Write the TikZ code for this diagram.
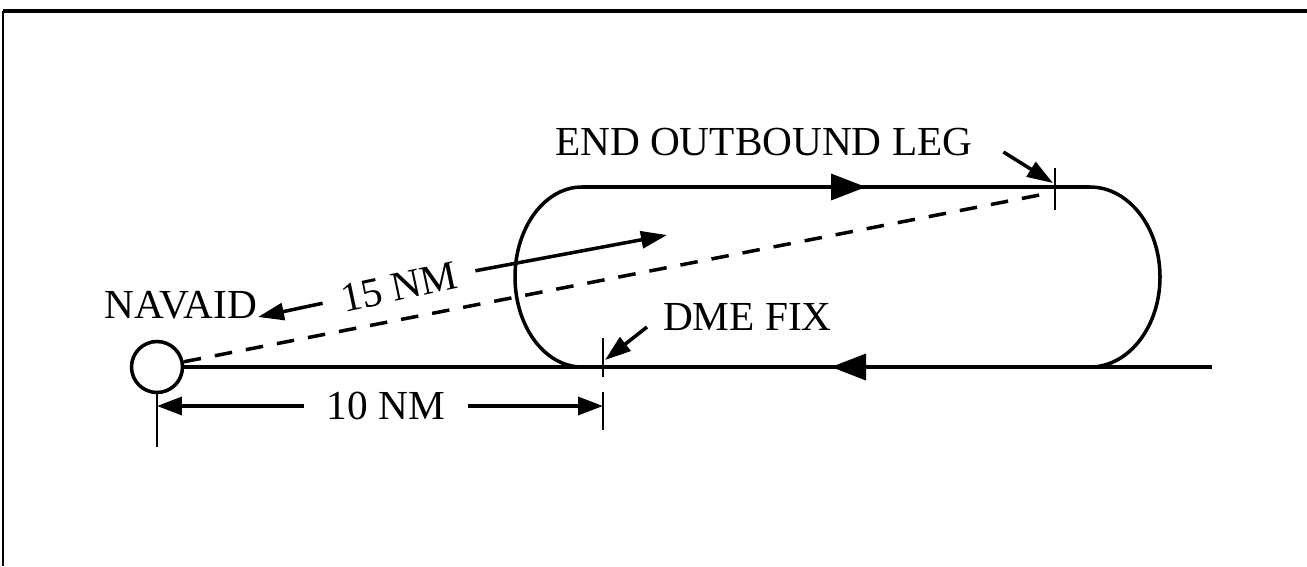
\documentclass[tikz,border=0pt]{standalone}
\usepackage{fontspec}
\setmainfont{Liberation Serif}
\usetikzlibrary{arrows.meta,calc}

\begin{document}
\begin{tikzpicture}[x=0.02cm, y=0.02cm, line width=2pt,
        lbl/.style={font=\fontsize{23.5}{27}\selectfont, inner sep=0pt, outer sep=0pt},
        tick/.style={line width=1pt},
        dim/.style={-{Triangle[length=0.5cm, width=0.36cm]}},
        pointer/.style={-{Triangle[length=0.52cm, width=0.34cm]}},
        flow/.style={-{Triangle[length=0.7cm, width=0.52cm]}}]
            \useasboundingbox (0,0) rectangle (1307,566);
            \draw[line width=1.1pt] (3,0) -- (3,555);
            \draw (3,555) -- (1307,555);

            \node[circle, draw, minimum size=1.02cm, inner sep=0pt] (navaid) at (157,199) {};
            \coordinate (inbound) at (1212,199);
            \coordinate (dmefix) at (603,199);
            \coordinate (endfix) at (1055,379);
            \coordinate (navtick) at (157,119);
            \coordinate (dashend) at (1050,373);
            \coordinate (outtip) at (667,331);

            \draw (582,379) -- (1090,379) arc[start angle=90, end angle=-90, x radius=70, y radius=90]
                -- (582,199) arc[start angle=270, end angle=90, x radius=67, y radius=90];
            \draw (navaid.east) -- (inbound);
            \draw[flow] (800,379) -- (866,379);
            \draw[flow] (900,199) -- (831,199);

            \draw[dash pattern=on 10pt off 8pt] (navaid) -- (dashend);

            \node[lbl, anchor=base east] (navlbl) at (257,248) {NAVAID};
            \node[lbl, anchor=base west] (endlbl) at (555,411) {END OUTBOUND LEG};
            \node[lbl, anchor=base west] (dmelbl) at (663,236) {DME FIX};
            \node[lbl, inner xsep=0.45cm] (tenlbl) at (386,160) {10 NM};
            \node[lbl, inner xsep=0.38cm, rotate=12] (fifteenlbl) at (399,279) {15 NM};

            \draw[tick] (navaid.south) -- (navtick);
            \draw[tick] ($(dmefix)+(0,29)$) -- ($(dmefix)+(0,-10)$);
            \draw[tick] ($(dmefix)+(0,-25)$) -- ($(dmefix)+(0,-63)$);
            \draw[tick] ($(endfix)+(0,19)$) -- ($(endfix)+(0,-23)$);

            \draw[dim] (tenlbl.west) -- (tenlbl.west -| navtick);
            \draw[dim] (tenlbl.east) -- (tenlbl.east -| dmefix);

            \draw[pointer] (fifteenlbl.west) -- ([xshift=0.02cm, yshift=0.02cm]navlbl.base east);
            \draw[pointer] (fifteenlbl.east) -- (outtip);
            \draw[pointer] ([xshift=-0.32cm, yshift=0.06cm]dmelbl.base west) -- ([xshift=0.04cm, yshift=0.14cm]dmefix);
            \draw[pointer] ([xshift=0.62cm, yshift=0.06cm]endlbl.base east) -- ([xshift=-0.04cm, yshift=0.08cm]endfix);
        \end{tikzpicture}
\end{document}
